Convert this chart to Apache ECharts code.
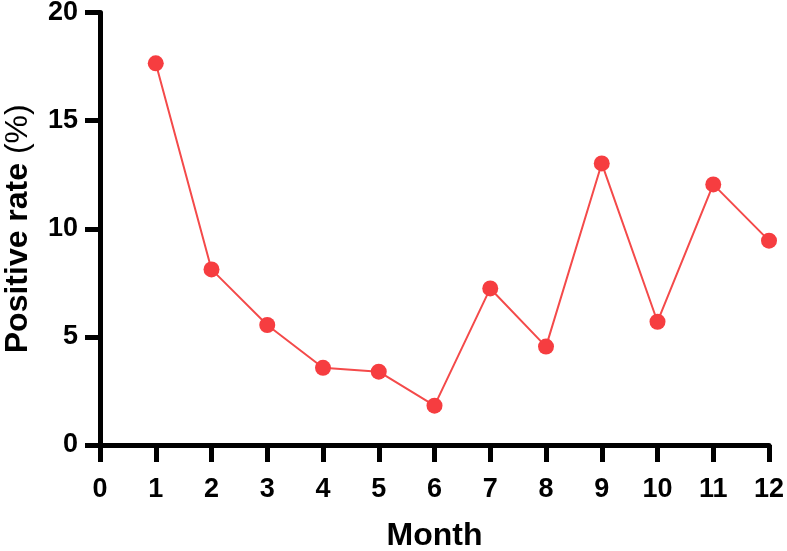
<!DOCTYPE html>
<html>
<head>
<meta charset="utf-8">
<script src="https://cdn.jsdelivr.net/npm/echarts@6/dist/echarts.min.js"></script>
<style>
  html, body { margin: 0; padding: 0; background: #fff; }
  #chart { width: 787px; height: 551px; }
</style>
</head>
<body>
<div id="chart"></div>
<script>
// data
const months = [1, 2, 3, 4, 5, 6, 7, 8, 9, 10, 11, 12]
const positiveRate = [17.65, 8.12, 5.55, 3.57, 3.39, 1.82, 7.24, 4.55, 13.02, 5.7, 12.05, 9.45]

const fontFamily = '"Liberation Sans", Arial, sans-serif'

const chart = echarts.init(document.getElementById('chart'))

chart.setOption({
  animation: false,
  grid: {
    left: 100,
    right: 18,
    top: 12.5,
    bottom: 106,
    outerBoundsMode: 'none',
  },
  xAxis: {
    type: 'value',
    min: 0,
    max: 12,
    interval: 1,
    name: 'Month',
    nameLocation: 'middle',
    nameGap: 75,
    nameTextStyle: {
      color: '#000',
      fontSize: 32,
      fontWeight: 'bold',
      fontFamily,
    },
    splitLine: { show: false },
    axisLine: { lineStyle: { color: '#000', width: 5 } },
    axisTick: { length: 17, lineStyle: { color: '#000', width: 5 } },
    axisLabel: {
      color: '#000',
      fontSize: 27,
      fontWeight: 'bold',
      fontFamily,
      margin: 31,
    },
  },
  yAxis: {
    type: 'value',
    min: 0,
    max: 20,
    interval: 5,
    name: '{b|Positive rate }{n|(%)}',
    nameLocation: 'middle',
    nameGap: 66,
    nameTextStyle: {
      rich: {
        b: { color: '#000', fontSize: 32, fontWeight: 'bold', fontFamily },
        n: { color: '#000', fontSize: 32, fontWeight: 'normal', fontFamily },
      },
    },
    splitLine: { show: false },
    axisLine: { show: true, lineStyle: { color: '#000', width: 5 } },
    axisTick: { show: true, length: 15, lineStyle: { color: '#000', width: 5 } },
    axisLabel: {
      color: '#000',
      fontSize: 27,
      fontWeight: 'bold',
      fontFamily,
      margin: 22,
    },
  },
  series: [
    {
      name: 'Positive rate',
      type: 'line',
      data: months.map((m, i) => [m, positiveRate[i]]),
      symbol: 'circle',
      symbolSize: 16,
      itemStyle: { color: '#f63d40' },
      lineStyle: { color: '#f44a4a', width: 2 },
    },
  ],
})
</script>
</body>
</html>
